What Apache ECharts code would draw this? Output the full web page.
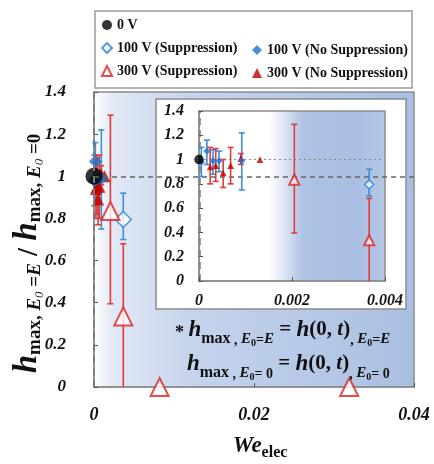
<!DOCTYPE html>
<html><head><meta charset="utf-8">
<script src="https://cdn.jsdelivr.net/npm/echarts@6/dist/echarts.min.js"></script>
<style>html,body{margin:0;padding:0;background:#fff}#chart{width:434px;height:464px}</style>
</head><body><div id="chart"></div>
<script>
// Axis ranges / ticks
const mainXTicks = [0, 0.02, 0.04];
const yTicks = [0, 0.2, 0.4, 0.6, 0.8, 1, 1.2, 1.4];
const insetXTicks = [0, 0.002, 0.004];

// Series: [We_elec, h ratio, lower error, upper error]
const zeroVolt = [[0, 1.0, 1.0, 1.0]];
const v100Sup = [[0.00366, 0.795, 0.70, 0.92]];
const v100NoSup = [
  [0.00005, 0.98, 0.86, 1.10],
  [0.00017, 1.07, 0.96, 1.16],
  [0.00030, 0.99, 0.88, 1.08],
  [0.00043, 0.99, 0.90, 1.07],
  [0.00092, 0.99, 0.75, 1.22]
];
const v300Sup = [
  [0.00205, 0.835, 0.395, 1.29],
  [0.00366, 0.335, 0.0, 0.68],
  [0.0082, 0.0, 0.0, 0.0],
  [0.0319, 0.0, 0.0, 0.0]
];
const v300NoSup = [
  [0.00024, 0.94, 0.80, 1.10],
  [0.00036, 0.95, 0.82, 1.09],
  [0.00052, 0.89, 0.77, 1.00],
  [0.00068, 0.95, 0.80, 1.10],
  [0.00090, 1.01, 0.96, 1.05],
  [0.00131, 1.00, 1.00, 1.00]
];
const threshold = 0.002;   // dashed boundary
const reference = 1;       // ratio = 1

const F = '"Liberation Serif", "Times New Roman", serif';
const INK = '#111';
const BLUE = '#1f76cc', BLUE_ERR = '#3b8fdb', RED = '#c00000', RED_ERR = '#e23b3b', RED_OPEN = '#e02020';
const insetMax = insetXTicks[insetXTicks.length - 1];

function errorBars(name, data, color, gi, z, cap) {
  return {
    type: 'custom', name, xAxisIndex: gi, yAxisIndex: gi, z, silent: true,
    data: data.filter(d => d[3] > d[2]).map(d => [d[0], d[2], d[3]]),
    encode: { x: 0, y: [1, 2] },
    renderItem(params, api) {
      const x = api.value(0);
      const lo = api.coord([x, api.value(1)]);
      const hi = api.coord([x, api.value(2)]);
      const st = { stroke: color, lineWidth: 1.6 };
      const ch = [
        { type: 'line', shape: { x1: lo[0], y1: lo[1], x2: hi[0], y2: hi[1] }, style: st },
        { type: 'line', shape: { x1: hi[0] - cap, y1: hi[1], x2: hi[0] + cap, y2: hi[1] }, style: st }
      ];
      if (api.value(1) > 0) ch.push({ type: 'line', shape: { x1: lo[0] - cap, y1: lo[1], x2: lo[0] + cap, y2: lo[1] }, style: st });
      return { type: 'group', children: ch };
    }
  };
}
function points(name, data, gi, symbol, size, style, z) {
  return {
    type: 'scatter', name, xAxisIndex: gi, yAxisIndex: gi, z, clip: false, silent: true,
    data: data.map(d => [d[0], d[1]]), symbol, symbolSize: size, itemStyle: style
  };
}
function refLines(gi, z, vStyle, hStyle) {
  return {
    type: 'line', name: 'ref' + gi, xAxisIndex: gi, yAxisIndex: gi, data: [], z, silent: true,
    markLine: {
      silent: true, symbol: 'none', label: { show: false }, animation: false,
      data: [
        { xAxis: threshold, lineStyle: vStyle },
        { yAxis: reference, lineStyle: hStyle }
      ]
    }
  };
}
function seriesFor(gi, filt, sc, zb) {
  const f = a => a.filter(d => d[0] <= filt);
  return [
    refLines(gi, zb,
      { color: '#7a7a7a', width: gi ? 2.5 : 2, type: [7, 5] },
      { color: gi ? '#8a8a8a' : '#666', width: gi ? 1.2 : 1.5, type: gi ? [2, 3] : [5, 4] }),
    errorBars('e100n' + gi, f(v100NoSup), BLUE_ERR, gi, zb + 1, 3),
    errorBars('e300n' + gi, f(v300NoSup), RED_ERR, gi, zb + 1, 3),
    errorBars('e100s' + gi, f(v100Sup), BLUE_ERR, gi, zb + 1, 3),
    errorBars('e300s' + gi, f(v300Sup), RED_ERR, gi, zb + 1, 3),
    points('300 V (No Suppression)', f(v300NoSup), gi, 'triangle', 12 * sc, { color: RED }, zb + 2),
    points('100 V (No Suppression)', f(v100NoSup), gi, 'diamond', 13 * sc, { color: BLUE }, zb + 2),
    points('100 V (Suppression)', f(v100Sup), gi, 'diamond', 16 * sc, { color: '#fff', borderColor: '#2a82d6', borderWidth: 1.6 }, zb + 2),
    points('300 V (Suppression)', f(v300Sup), gi, 'triangle', 18 * sc, { color: '#fff', borderColor: RED_OPEN, borderWidth: 2 }, zb + 2),
    points('0 V', f(zeroVolt), gi, 'circle', 17 * sc, { color: '#000' }, zb + 3)
  ];
}

const tickLabel = (size, margin) => ({
  fontFamily: F, fontWeight: 'bold', fontStyle: 'italic', fontSize: size, color: INK, margin,
  formatter: v => String(+(+v).toFixed(4))
});
const axisLine = { show: true, lineStyle: { color: '#8c8c8c', width: 1.5 } };
const axisTick = { show: true, inside: true, length: 4, lineStyle: { color: '#555', width: 1 } };

const sub = { fontFamily: F, verticalAlign: 'bottom', color: INK };
const yName = '{h|h}{s|max, }{e|E}{z|0}{s| =}{e|E}{sl| / }{h|h}{s|max, }{e|E}{z|0}{end| =0}';
const yRich = {
  h: { ...sub, fontSize: 33, fontWeight: 'bold', fontStyle: 'italic', padding: [0, 0, 1, 0] },
  s: { ...sub, fontSize: 19, fontWeight: 'bold' },
  e: { ...sub, fontSize: 19, fontWeight: 'bold', fontStyle: 'italic' },
  z: { ...sub, fontSize: 13, fontStyle: 'italic', padding: [0, 0, -1, 0] },
  sl: { ...sub, fontSize: 29, fontWeight: 'bold', padding: [0, 0, 1, 0] },
  end: { ...sub, fontSize: 19, fontWeight: 'bold', padding: [0, 28, 0, 0] }
};
const annRich = {
  st: { ...sub, fontSize: 18, fontWeight: 'bold', padding: [0, 0, 5, 0] },
  h: { ...sub, fontSize: 23, fontWeight: 'bold', fontStyle: 'italic', padding: [0, 0, 5, 0] },
  m: { ...sub, fontSize: 16, fontWeight: 'bold' },
  c: { ...sub, fontSize: 14, fontWeight: 'bold' },
  e: { ...sub, fontSize: 15, fontWeight: 'bold', fontStyle: 'italic' },
  z: { ...sub, fontSize: 10, fontWeight: 'bold', padding: [0, 0, -1, 0] },
  eq: { ...sub, fontSize: 21, fontWeight: 'bold', padding: [0, 0, 7, 0] },
  p: { ...sub, fontSize: 21, fontWeight: 'bold', padding: [0, 0, 7, 0] },
  t: { ...sub, fontSize: 21, fontWeight: 'bold', fontStyle: 'italic', padding: [0, 0, 7, 0] }
};
const ann1 = '{st|* }{h|h}{m|max}{c| , }{e|E}{z|0}{c|=}{e|E}{eq| = }{h|h}{p|(0, }{t|t}{p|)}{c|, }{e|E}{z|0}{c|=}{e|E}';
const ann2 = '{h|h}{m|max}{c| , }{e|E}{z|0}{c|= 0}{eq| = }{h|h}{p|(0, }{t|t}{p|)}{c|, }{e|E}{z|0}{c|= 0}';

const legendText = { fontFamily: F, fontWeight: 'bold', fontSize: 14, color: INK };

const option = {
  animation: false,
  backgroundColor: '#fff',
  grid: [
    {
      left: 94, top: 92, width: 320, height: 295, show: true, z: 0, outerBoundsMode: 'none',
      borderColor: '#8c8c8c', borderWidth: 1.5,
      backgroundColor: { type: 'linear', x: 0, y: 0, x2: 1, y2: 0, colorStops: [
        { offset: 0, color: '#ffffff' }, { offset: 0.06, color: '#e2e9f5' },
        { offset: 0.3, color: '#c6d4ec' }, { offset: 1, color: '#a9bfe2' }] }
    },
    {
      left: 199, top: 111, width: 186, height: 170, show: true, z: 4, outerBoundsMode: 'none',
      borderColor: '#8c8c8c', borderWidth: 1.5,
      backgroundColor: { type: 'linear', x: 0, y: 0, x2: 1, y2: 0, colorStops: [
        { offset: 0, color: '#ffffff' }, { offset: 0.38, color: '#ffffff' },
        { offset: 0.56, color: '#aec2e4' }, { offset: 0.85, color: '#a9bee2' }, { offset: 1, color: '#b6c8e7' }] }
    }
  ],
  xAxis: [
    {
      gridIndex: 0, type: 'value', min: mainXTicks[0], max: mainXTicks[2], interval: mainXTicks[1] - mainXTicks[0],
      axisLine, axisTick, splitLine: { show: false }, axisLabel: tickLabel(18, 19),
      name: '{w|We}{sub|elec}', nameLocation: 'middle', nameGap: 48, nameMoveOverlap: false,
      nameTextStyle: { padding: [0, 0, 0, 12], rich: {
        w: { ...sub, fontSize: 23, fontWeight: 'bold', fontStyle: 'italic', padding: [0, 0, 3, 0] },
        sub: { ...sub, fontSize: 16, fontWeight: 'bold' } } }
    },
    {
      gridIndex: 1, type: 'value', min: insetXTicks[0], max: insetMax, interval: insetXTicks[1] - insetXTicks[0], z: 5,
      axisLine, axisTick, splitLine: { show: false }, axisLabel: tickLabel(16, 12)
    }
  ],
  yAxis: [
    {
      gridIndex: 0, type: 'value', min: yTicks[0], max: yTicks[yTicks.length - 1], interval: yTicks[1] - yTicks[0],
      axisLine, axisTick, splitLine: { show: false }, axisLabel: tickLabel(17, 28),
      name: yName, nameLocation: 'middle', nameRotate: 90, nameGap: 49, nameMoveOverlap: false,
      nameTextStyle: { rich: yRich }
    },
    {
      gridIndex: 1, type: 'value', min: yTicks[0], max: yTicks[yTicks.length - 1], interval: yTicks[1] - yTicks[0], z: 5,
      axisLine, axisTick, splitLine: { show: false }, axisLabel: tickLabel(16, 15)
    }
  ],
  legend: [
    { data: ['0 V', '100 V (Suppression)', '300 V (Suppression)'], orient: 'vertical', left: 96, top: 13,
      itemWidth: 10, itemHeight: 10, itemGap: 9, selectedMode: false, textStyle: legendText },
    { data: ['100 V (No Suppression)', '300 V (No Suppression)'], orient: 'vertical', left: 247, top: 38,
      itemWidth: 10, itemHeight: 10, itemGap: 9, selectedMode: false, textStyle: legendText }
  ],
  graphic: [
    { type: 'rect', z: 3, silent: true, shape: { x: 95, y: 11, width: 317, height: 77 },
      style: { fill: 'none', stroke: '#9a9a9a', lineWidth: 1.5 } },
    { type: 'rect', z: 3, silent: true, shape: { x: 156, y: 99, width: 250, height: 210 },
      style: { fill: '#ffffff', stroke: '#8c8c8c', lineWidth: 1.5 } },
    { type: 'text', z: 10, silent: true, left: 175, top: 319, style: { text: ann1, rich: annRich, fill: INK } },
    { type: 'text', z: 10, silent: true, left: 187, top: 353, style: { text: ann2, rich: annRich, fill: INK } }
  ],
  series: [
    ...seriesFor(0, Infinity, 1, 1),
    ...seriesFor(1, insetMax, 0.56, 6)
  ]
};

const chart = echarts.init(document.getElementById('chart'), null, { renderer: 'canvas' });
chart.setOption(option);
</script>
</body></html>
